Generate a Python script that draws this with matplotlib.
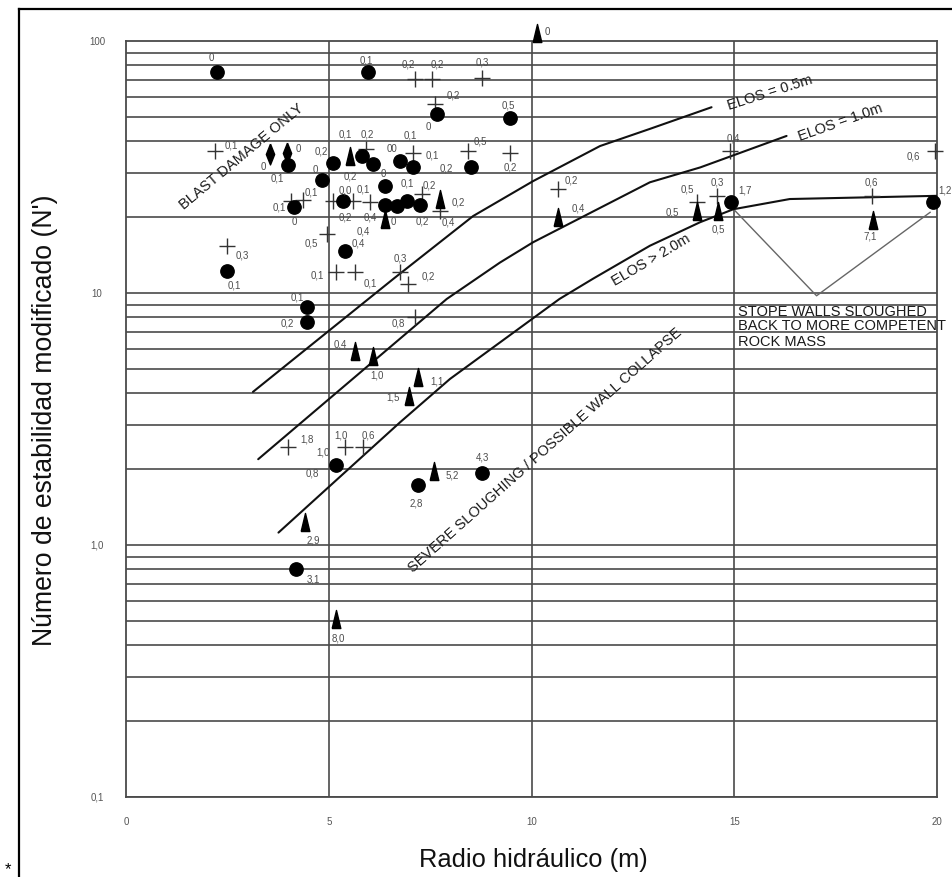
import matplotlib
matplotlib.use("Agg")
import matplotlib.pyplot as plt
from matplotlib.lines import Line2D

plt.rcParams['font.family'] = ['Liberation Sans', 'DejaVu Sans']

# ---- case histories: hydraulic radius (m), modified stability number N', dilution label ----
circle_x = [2.24, 5.97, 7.67, 9.47, 3.99, 4.15, 4.83, 5.10, 5.82, 6.09, 6.76, 7.09, 8.52,
            6.39, 5.36, 6.39, 6.68, 6.92, 7.25, 4.46, 4.46, 5.40, 2.50, 5.19, 7.21, 8.79,
            4.19, 14.93, 19.91]
circle_n = [75.3, 75.0, 51.3, 49.4, 32.2, 22.0, 28.1, 32.7, 35.0, 32.5, 33.5, 31.5, 31.5,
            26.7, 23.1, 22.4, 22.2, 23.1, 22.4, 8.77, 7.65, 14.7, 12.2, 2.07, 1.73, 1.93,
            0.804, 22.9, 22.9]
circle_lbl = ["0", "0,1", "0", "0,5", "0,1", "0", "0", "0,2", "0,1", "", "00", "0,1", "0,2",
              "0", "0,0", "", "0", "0,1", "0,2", "0,1", "0,2", "0,4", "0,1", "0,8", "2,8", "4,3",
              "3,1", "1,7", "1,2"]

cross_x = [2.19, 2.48, 7.13, 7.54, 8.77, 7.62, 7.09, 8.44, 9.47, 10.66, 5.93, 4.08, 4.37,
           5.11, 5.60, 6.02, 7.29, 4.95, 5.19, 5.65, 6.76, 6.96, 7.13, 4.00, 5.40, 5.85,
           14.90, 19.95, 14.57, 18.39, 14.07, 7.74]
cross_n = [36.7, 15.4, 70.6, 70.6, 71.6, 56.2, 36.1, 36.7, 36.1, 25.9, 37.3, 23.2, 23.4,
           23.2, 23.2, 23.0, 24.7, 17.1, 12.1, 12.1, 12.1, 10.9, 8.02, 2.44, 2.44, 2.44,
           36.7, 36.7, 24.3, 24.3, 23.0, 21.1]
cross_lbl = ["0,1", "0,3", "0,2", "0,2", "0,3", "0,2", "0,1", "0,5", "0,2", "0,2", "0,2", "0,1",
             "0,1", "", "0,1", "0,4", "0,2", "0,5", "0,1", "0,1", "0,3", "0,2", "0,8", "1,8",
             "1,0", "0,6", "0,4", "0,6", "0,3", "0,6", "0,5", "0,4"]

tri_x = [10.13, 10.66, 14.07, 14.61, 18.43, 5.65, 6.10, 7.21, 6.99, 7.60, 4.41, 5.18,
         5.52, 6.39, 7.74]
tri_n = [107.6, 20.0, 21.1, 21.2, 19.4, 5.90, 5.64, 4.63, 3.89, 1.97, 1.23, 0.508,
         35.0, 19.7, 23.6]
tri_lbl = ["0", "0,4", "0,5", "0,5", "7,1", "0,4", "1,0", "1,1", "1,5", "5,2", "2,9", "8,0",
           "0,2", "0,4", "0,2"]

diamond_x = [3.55, 3.96]
diamond_n = [35.6, 36.0]
diamond_lbl = ["0", "0"]

# labels drawn on their own
extra_lbl = ["0,2", "1,0"]
extra_x = [5.40, 4.86]
extra_n = [20.1, 2.34]

# ---- design curves (equivalent linear overbreak/slough) ----
elos05_x = [3.13, 6.60, 8.56, 10.04, 11.69, 12.92, 14.44]
elos05_n = [4.05, 11.4, 20.2, 27.8, 38.3, 44.8, 54.6]
elos10_x = [3.26, 7.91, 9.22, 10.04, 12.92, 14.16, 16.29]
elos10_n = [2.19, 9.47, 13.2, 15.9, 27.5, 31.5, 42.0]
elos20_x = [3.76, 6.76, 7.99, 10.69, 11.52, 12.92, 14.16, 14.98, 16.37, 20.0]
elos20_n = [1.12, 3.07, 4.56, 9.47, 11.4, 15.4, 19.1, 21.5, 23.6, 24.3]
vee_x = [15.02, 17.03, 19.83]
vee_n = [21.2, 9.75, 20.9]

x_ticks = [0, 5, 10, 15, 20]
x_tick_lbl = ["0", "5", "10", "15", "20"]
y_ticks = [0.1, 1.0, 10, 100]
y_tick_lbl = ["0,1", "1,0", "10", "100"]

# ---- label offsets in pixels (dx, dy) ----
circle_off = [(-6, 15), (-2, 13), (-9, -12), (-2, 14), (-10, -12), (0, -14), (-7, 11), (-11, 13),
              (-17, 22), (0, 0), (-8, 13), (19, 13), (-25, 0), (-2, 13), (2, 12), (0, 0),
              (-4, -15), (1, 19), (2, -16), (-10, 11), (-20, 0), (13, 8), (7, -13), (-24, -7),
              (-2, -17), (0, 17), (17, -10), (14, 13), (12, 13)]
cross_off = [(17, 6), (16, -9), (-7, 16), (6, 16), (1, 16), (18, 10), (-3, 18), (12, 10), (0, -14),
             (13, 9), (1, 15), (-12, -6), (8, 8), (0, 0), (10, 12), (0, -15), (8, 10), (-15, -8),
             (-19, -2), (15, -10), (0, 15), (20, 8), (-17, -5), (19, 9), (-4, 13), (5, 13),
             (3, 13), (-22, -5), (0, 14), (0, 14), (-9, 13), (8, -10)]
tri_off = [(11, 2), (20, 10), (-24, 0), (0, -18), (-3, -15), (-15, 7), (4, -19), (19, -3),
           (-16, 0), (18, -4), (8, -17), (2, -18), (0, -20), (-22, -12), (18, -2)]
diamond_off = [(-7, -12), (12, 5)]

W, H = 953, 878
fig = plt.figure(figsize=(W / 100, H / 100), dpi=100)
ax = fig.add_axes([126 / W, (H - 798) / H, (937 - 126) / W, (798 - 42) / H])
ax.set_xlim(0, 20)
ax.set_yscale('log')
ax.set_ylim(0.1, 100)
ax.set_xticks([])
ax.set_yticks([])
ax.minorticks_off()
grid_c = '#4a4a4a'
for s in ax.spines.values():
    s.set_color(grid_c)
    s.set_linewidth(1.3)

for dec in [0.1, 1, 10]:
    for k in range(1, 10):
        ax.axhline(k * dec, color=grid_c, lw=1.2, zorder=1)
for xv in [5, 10, 15]:
    ax.axvline(xv, color=grid_c, lw=1.2, zorder=1)

tick_font = dict(fontsize=7, color='#555555', ha='center', va='center',
                 family=['Liberation Sans Narrow', 'Liberation Sans', 'DejaVu Sans'])
for xv, t in zip(x_ticks, x_tick_lbl):
    ax.annotate(t, xy=(xv, 0), xycoords=('data', 'axes fraction'), xytext=(0, -24),
                textcoords='offset pixels', annotation_clip=False, **tick_font)
for yv, t in zip(y_ticks, y_tick_lbl):
    ax.annotate(t, xy=(0, yv), xycoords=('axes fraction', 'data'), xytext=(-29, 0),
                textcoords='offset pixels', annotation_clip=False, **tick_font)

# curves
for cx, cn in [(elos05_x, elos05_n), (elos10_x, elos10_n), (elos20_x, elos20_n)]:
    ax.plot(cx, cn, color='#111111', lw=1.5, zorder=3, solid_capstyle='round')
ax.plot(vee_x, vee_n, color='#666666', lw=1.0, zorder=3)

# markers
tri_marker = [(-0.24, -0.5), (0.24, -0.5), (0.0, 0.5), (-0.24, -0.5)]
dia_marker = [(0.0, 0.5), (0.2, 0.0), (0.0, -0.5), (-0.2, 0.0), (0.0, 0.5)]
ax.plot(cross_x, cross_n, ls='none', marker='+', ms=12, mew=1.0, color='#333333',
        zorder=4, clip_on=False)
ax.plot(circle_x, circle_n, ls='none', marker='o', ms=9.6, color='black', zorder=5,
        clip_on=False)
ax.plot(tri_x, tri_n, ls='none', marker=tri_marker, ms=13, color='black', zorder=5,
        clip_on=False)
ax.plot(diamond_x, diamond_n, ls='none', marker=dia_marker, ms=15, color='black', zorder=5,
        clip_on=False)

lab_font = dict(fontsize=7, color='#4d4d4d', ha='center', va='center',
                family=['Liberation Sans Narrow', 'Liberation Sans', 'DejaVu Sans'])
for xs, ns, ls_, offs in [(circle_x, circle_n, circle_lbl, circle_off),
                          (cross_x, cross_n, cross_lbl, cross_off),
                          (tri_x, tri_n, tri_lbl, tri_off),
                          (diamond_x, diamond_n, diamond_lbl, diamond_off)]:
    for xv, nv, t, (dx, dy) in zip(xs, ns, ls_, offs):
        if t:
            ax.annotate(t, xy=(xv, nv), xytext=(dx, dy), textcoords='offset pixels',
                        annotation_clip=False, zorder=6, **lab_font)
for t, xv, nv in zip(extra_lbl, extra_x, extra_n):
    ax.text(xv, nv, t, zorder=6, **lab_font)

# zone annotations
note = dict(fontsize=10.5, color='#1a1a1a', ha='center', va='center',
            rotation_mode='anchor', zorder=6)
ax.text(2.84, 35.0, "BLAST DAMAGE ONLY", rotation=39.8, **note)
ax.text(15.88, 62.8, "ELOS = 0.5m", rotation=17.6, **note)
ax.text(17.61, 47.7, "ELOS = 1.0m", rotation=19.4, **note)
ax.text(12.95, 13.6, "ELOS > 2.0m", rotation=30.5, **note)
ax.text(10.33, 2.40, "SEVERE SLOUGHING / POSSIBLE WALL COLLAPSE", rotation=41.6, **note)
for t, nv in [("STOPE WALLS SLOUGHED", 8.49), ("BACK TO MORE COMPETENT", 7.47),
              ("ROCK MASS", 6.45)]:
    ax.text(15.09, nv, t, fontsize=10.5, color='#1a1a1a', ha='left', va='center', zorder=6,
            clip_on=False)

fig.text(45 / W, 1 - 420 / H, "Número de estabilidad modificado (N')", rotation=90,
         ha='center', va='center', fontsize=19.2, color='#111111')
fig.text(533 / W, 1 - 860 / H, "Radio hidráulico (m)", ha='center', va='center',
         fontsize=18.4, color='#111111')

fig.add_artist(Line2D([19 / W, 19 / W], [0, 1 - 10 / H], transform=fig.transFigure,
                      color='black', lw=1.6))
fig.add_artist(Line2D([19 / W, 1], [1 - 10 / H, 1 - 10 / H], transform=fig.transFigure,
                      color='black', lw=1.6))
fig.text(8 / W, 1 - 870 / H, "*", fontsize=12, ha='center', va='center')

fig.savefig("out.png", dpi=100)
